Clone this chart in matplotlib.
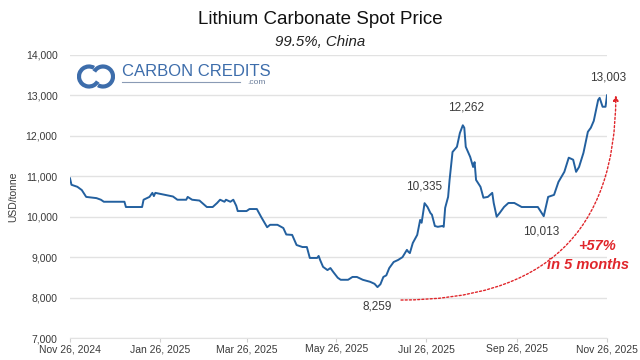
import matplotlib
matplotlib.use('Agg')
import matplotlib.pyplot as plt
import matplotlib.dates as mdates
from matplotlib.patches import Arc
import pandas as pd

# lithium carbonate 99.5% spot price, China (USD/tonne)
dates = [
    '2024-11-26', '2024-11-27', '2024-12-01', '2024-12-04', '2024-12-07', '2024-12-14',
    '2024-12-17', '2024-12-19', '2025-01-02', '2025-01-03', '2025-01-14', '2025-01-15',
    '2025-01-19', '2025-01-21', '2025-01-22', '2025-01-23', '2025-02-04', '2025-02-07',
    '2025-02-13', '2025-02-14', '2025-02-17', '2025-02-22', '2025-02-27', '2025-03-03',
    '2025-03-06', '2025-03-08', '2025-03-11', '2025-03-12', '2025-03-15', '2025-03-17',
    '2025-03-19', '2025-03-20', '2025-03-26', '2025-03-28', '2025-04-02', '2025-04-05',
    '2025-04-09', '2025-04-11', '2025-04-16', '2025-04-20', '2025-04-22', '2025-04-26',
    '2025-04-29', '2025-05-03', '2025-05-06', '2025-05-08', '2025-05-13', '2025-05-14',
    '2025-05-15', '2025-05-17', '2025-05-20', '2025-05-22', '2025-05-24', '2025-05-27',
    '2025-05-29', '2025-06-03', '2025-06-06', '2025-06-09', '2025-06-13', '2025-06-18',
    '2025-06-21', '2025-06-23', '2025-06-25', '2025-06-27', '2025-06-29', '2025-07-01',
    '2025-07-04', '2025-07-07', '2025-07-10', '2025-07-13', '2025-07-14', '2025-07-15',
    '2025-07-17', '2025-07-20', '2025-07-22', '2025-07-23', '2025-07-25', '2025-07-27',
    '2025-07-29', '2025-07-30', '2025-08-01', '2025-08-03', '2025-08-06', '2025-08-07',
    '2025-08-08', '2025-08-10', '2025-08-11', '2025-08-13', '2025-08-16', '2025-08-18',
    '2025-08-20', '2025-08-21', '2025-08-22', '2025-08-25', '2025-08-27', '2025-08-28',
    '2025-08-29', '2025-09-01', '2025-09-03', '2025-09-06', '2025-09-09', '2025-09-10',
    '2025-09-12', '2025-09-14', '2025-09-17', '2025-09-20', '2025-09-24', '2025-09-29',
    '2025-10-10', '2025-10-14', '2025-10-17', '2025-10-21', '2025-10-24', '2025-10-28',
    '2025-10-31', '2025-11-03', '2025-11-05', '2025-11-07', '2025-11-10', '2025-11-13',
    '2025-11-15', '2025-11-17', '2025-11-20', '2025-11-21', '2025-11-23', '2025-11-25',
    '2025-11-26',
]
prices = [
    10950, 10790, 10740, 10660, 10490, 10460,
    10420, 10370, 10370, 10240, 10240, 10420,
    10490, 10590, 10510, 10590, 10500, 10420,
    10420, 10490, 10420, 10400, 10240, 10240,
    10340, 10420, 10370, 10420, 10370, 10420,
    10270, 10140, 10140, 10190, 10190, 9990,
    9740, 9800, 9800, 9720, 9560, 9550,
    9300, 9250, 9250, 8980, 8980, 9030,
    8930, 8760, 8680, 8730, 8630, 8490,
    8440, 8440, 8510, 8510, 8440, 8390,
    8340, 8259, 8330, 8510, 8550, 8730,
    8880, 8930, 9000, 9180, 9130, 9100,
    9350, 9550, 9920, 9850, 10335, 10240,
    10090, 10050, 9770, 9750, 9770, 9750,
    10220, 10490, 10910, 11600, 11730, 12070,
    12262, 12200, 11730, 11480, 11230, 11350,
    10910, 10740, 10470, 10490, 10590, 10340,
    10000, 10090, 10240, 10340, 10340, 10240,
    10240, 10013, 10490, 10540, 10860, 11110,
    11460, 11410, 11110, 11230, 11580, 12100,
    12200, 12370, 12890, 12940, 12720, 12720,
    13003,
]
tick_dates = ['2024-11-26', '2025-01-26', '2025-03-26', '2025-05-26',
              '2025-07-26', '2025-09-26', '2025-11-26']
labelled = ['2025-06-23', '2025-07-25', '2025-08-20', '2025-10-14', '2025-11-26']

plt.rcParams['font.family'] = ['Liberation Sans', 'DejaVu Sans']

s = pd.Series(prices, index=pd.to_datetime(dates))
BLUE = '#23609f'
RED = '#e0262b'
GREY = '#3a3a3a'

fig = plt.figure(figsize=(6.4, 3.6), dpi=100)
ax = fig.add_axes([70 / 640, 22 / 360, 537 / 640, 283 / 360])

ax.plot(s.index, s.values, color=BLUE, lw=1.4, zorder=3)

ax.set_xlim(pd.Timestamp(tick_dates[0]), pd.Timestamp(tick_dates[-1]))
ax.set_ylim(7000, 14000)
ax.set_yticks(range(7000, 14001, 1000))
ax.yaxis.set_major_formatter(matplotlib.ticker.StrMethodFormatter('{x:,.0f}'))
ax.set_xticks(pd.to_datetime(tick_dates))
ax.xaxis.set_major_formatter(mdates.DateFormatter('%b %d, %Y'))
ax.grid(axis='y', color='#e2e2e2', lw=1)
ax.set_axisbelow(True)
for side in ['top', 'right', 'left']:
    ax.spines[side].set_visible(False)
ax.spines['bottom'].set_color('#e2e2e2')
ax.tick_params(axis='y', length=0, labelsize=7.5, labelcolor=GREY, pad=9)
ax.tick_params(axis='x', length=3, color='#d0d0d0', labelsize=7.5, labelcolor=GREY, pad=1.5)
ax.set_ylabel('USD/tonne', fontsize=7.5, color=GREY, labelpad=5)

# value labels
offsets = {'2025-06-23': (0, -14), '2025-07-25': (0, 12), '2025-08-20': (2, 13),
           '2025-10-14': (-2, -11), '2025-11-26': (1, 13)}
for d in labelled:
    v = s[pd.Timestamp(d)]
    ax.annotate(f'{v:,}', (pd.Timestamp(d), v), xytext=offsets[d],
                textcoords='offset points', ha='center', va='center',
                fontsize=8.5, color=GREY, annotation_clip=False)

# dotted growth arrow from the low to the latest price
low_d = s.idxmin()
ax.annotate('', xy=(s.index[-1] + pd.Timedelta(days=6), s.iloc[-1]),
            xytext=(low_d + pd.Timedelta(days=16), s.min() - 320),
            arrowprops=dict(arrowstyle='-|>', color=RED, lw=1, ls=(0, (1.5, 1.5)),
                            connectionstyle='angle3,angleA=0,angleB=90',
                            mutation_scale=8, shrinkA=0, shrinkB=0),
            annotation_clip=False)
ax.text(0.981, 0.325, '+57%', transform=ax.transAxes, ha='center', va='center',
        color=RED, fontsize=10.5, fontweight='bold', fontstyle='italic')
ax.text(0.965, 0.258, 'in 5 months', transform=ax.transAxes, ha='center', va='center',
        color=RED, fontsize=10.5, fontweight='bold', fontstyle='italic')

fig.text(0.5, 1 - 20 / 360, 'Lithium Carbonate Spot Price', ha='center', va='center',
         fontsize=13.5, color='#111111')
fig.text(0.5, 1 - 42 / 360, '99.5%, China', ha='center', va='center',
         fontsize=10.8, fontstyle='italic', color='#222222')

# logo
LOGO = '#3d6dab'
lax = fig.add_axes([77 / 640, 1 - 90 / 360, 38 / 640, 27 / 360])
lax.set_xlim(0, 38)
lax.set_ylim(0, 27)
lax.axis('off')
lax.add_patch(Arc((12, 13.5), 20, 20, theta1=60, theta2=330, lw=3, color=LOGO))
lax.add_patch(Arc((26, 13.5), 20, 20, theta1=240, theta2=150, lw=3, color=LOGO))
fig.text(122 / 640, 1 - 72 / 360, 'CARBON CREDITS', ha='left', va='center',
         fontsize=12, color=LOGO)
fig.add_artist(plt.Line2D([122 / 640, 240 / 640], [1 - 82 / 360, 1 - 82 / 360],
                          color='#8a9bb5', lw=0.8))
fig.text(266 / 640, 1 - 83 / 360, '.com', ha='right', va='center',
         fontsize=6, color='#6a7d9a')

fig.savefig('out.png', dpi=100)
